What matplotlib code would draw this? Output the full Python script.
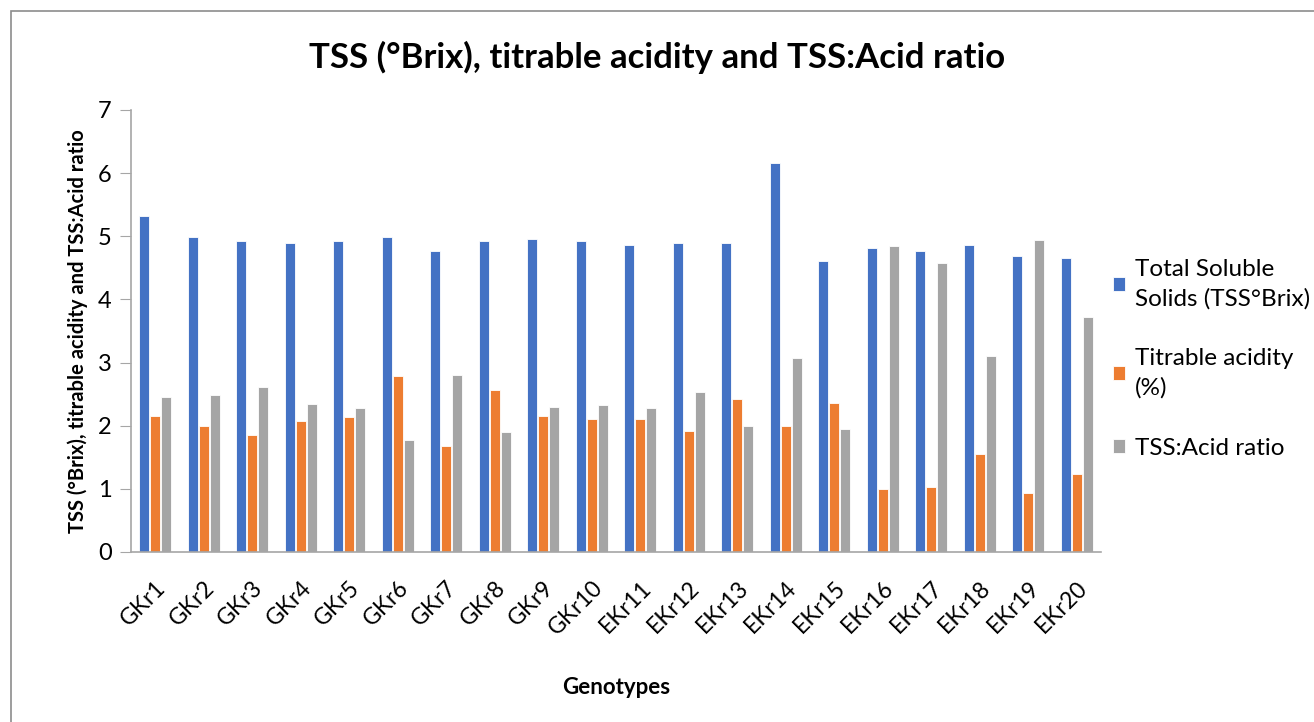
import matplotlib.pyplot as plt
import numpy as np
from matplotlib.patches import Rectangle

plt.rcParams['font.family'] = ['Lato', 'DejaVu Sans']

genotypes = ['GKr1', 'GKr2', 'GKr3', 'GKr4', 'GKr5', 'GKr6', 'GKr7', 'GKr8', 'GKr9', 'GKr10',
             'EKr11', 'EKr12', 'EKr13', 'EKr14', 'EKr15', 'EKr16', 'EKr17', 'EKr18', 'EKr19', 'EKr20']
tss = [5.32, 4.99, 4.92, 4.89, 4.92, 4.99, 4.76, 4.92, 4.96, 4.92,
       4.86, 4.89, 4.89, 6.16, 4.61, 4.82, 4.76, 4.86, 4.69, 4.66]
acidity = [2.16, 1.99, 1.86, 2.07, 2.14, 2.79, 1.68, 2.57, 2.15, 2.10,
           2.11, 1.92, 2.43, 1.99, 2.36, 0.99, 1.03, 1.55, 0.94, 1.24]
ratio = [2.45, 2.49, 2.62, 2.35, 2.28, 1.77, 2.80, 1.90, 2.29, 2.33,
         2.28, 2.53, 2.00, 3.07, 1.95, 4.84, 4.57, 3.11, 4.94, 3.72]
series_names = ['Total Soluble\nSolids (TSS°Brix)', 'Titrable acidity\n(%)', 'TSS:Acid ratio']
colors = ['#4472C4', '#ED7D31', '#A5A5A5']

fig = plt.figure(figsize=(13.14, 7.22), dpi=100)
ax = fig.add_axes([131 / 1314, 1 - 552 / 722, 970 / 1314, 442 / 722])

x = np.arange(len(genotypes))
w = 0.21
for i, (vals, name, c) in enumerate(zip([tss, acidity, ratio], series_names, colors)):
    ax.bar(x + (i - 1) * 0.225, vals, w, color=c, label=name,
           edgecolor='white', linewidth=0.6)

ax.set_xlim(-0.5, len(genotypes) - 0.5)
ax.set_ylim(0, 7)
ax.set_yticks(range(8))
ax.tick_params(axis='y', labelsize=17, length=8, color='#A6A6A6', pad=6)
ax.tick_params(axis='x', length=0, labelsize=16.5, pad=18)
ax.set_xticks(x)
ax.set_xticklabels(genotypes, rotation=45, ha='right', rotation_mode='anchor')
for s in ['top', 'right']:
    ax.spines[s].set_visible(False)
for s in ['left', 'bottom']:
    ax.spines[s].set_color('#A6A6A6')
    ax.spines[s].set_linewidth(1.2)

ax.set_ylabel('TSS (°Brix), titrable acidity and TSS:Acid ratio', fontsize=14.5,
              fontweight='bold', labelpad=7)
ax.set_xlabel('Genotypes', fontsize=16, fontweight='bold', labelpad=27)
fig.text(0.5, 1 - 57 / 722, 'TSS (°Brix), titrable acidity and TSS:Acid ratio',
         ha='center', va='center', fontsize=25, fontweight='bold')

leg = ax.legend(loc='center left', bbox_to_anchor=(0.99, 0.437), frameon=False, fontsize=17.5,
                handlelength=0.5, handleheight=0.5, handletextpad=0.4, labelspacing=1.6)
for t in leg.get_texts():
    t.set_linespacing(1.45)

fig.patches.append(Rectangle((11 / 1314, -0.1), 1.2, 1 - 11 / 722 + 0.1,
                             transform=fig.transFigure, fill=False,
                             edgecolor='#8C8C8C', linewidth=1.2))

fig.savefig('out.png', dpi=100)
